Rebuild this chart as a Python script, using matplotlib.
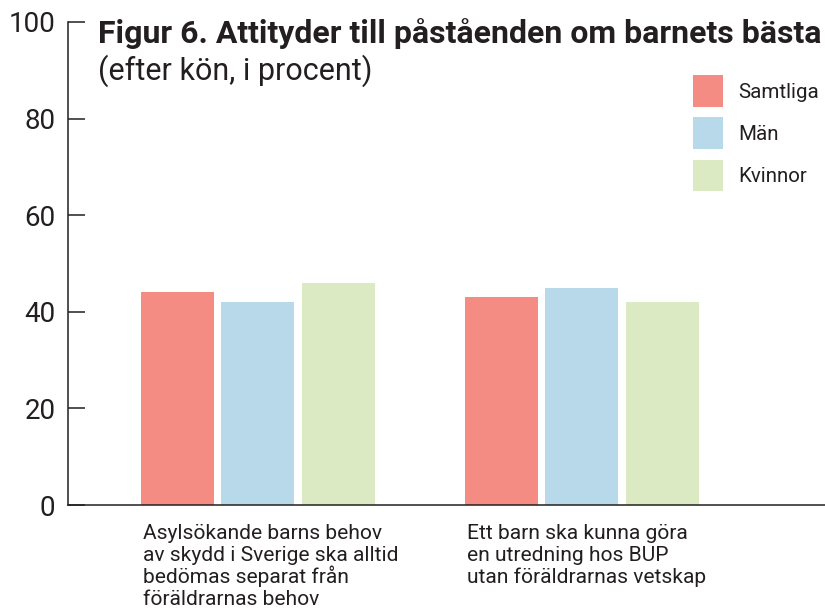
import matplotlib
matplotlib.use("Agg")
import matplotlib.pyplot as plt
import matplotlib.transforms as mtransforms
import numpy as np

# data
categories = ["Asylsökande barns behov\nav skydd i Sverige ska alltid\nbedömas separat från\nföräldrarnas behov",
              "Ett barn ska kunna göra\nen utredning hos BUP\nutan föräldrarnas vetskap"]
series = ["Samtliga", "Män", "Kvinnor"]
samtliga = [44, 43]
man = [42, 45]
kvinnor = [46, 42]
yticks = [0, 20, 40, 60, 80, 100]

colors = ["#F48C84", "#B8D9EA", "#DBEAC2"]
textcol = "#231F20"

plt.rcParams['font.family'] = ['Roboto', 'DejaVu Sans']

W, H = 825, 611
fig = plt.figure(figsize=(W / 100, H / 100), dpi=100)
ax = fig.add_axes([68 / W, 1 - 505 / H, 1 - 68 / W, (505 - 22) / H])

pos = np.arange(len(categories))
w = 0.225
step = 0.2485
for i, vals in enumerate([samtliga, man, kvinnor]):
    ax.bar(pos + (i - 1) * step, vals, width=w, color=colors[i], label=series[i], zorder=2)

ax.set_xlim(-0.586, 1.75)
ax.set_ylim(0, 100)
ax.set_yticks(yticks)
ax.set_xticks([])
ax.spines['top'].set_visible(False)
ax.spines['right'].set_visible(False)
ax.spines['left'].set_bounds(0, 100)
for s in ['left', 'bottom']:
    ax.spines[s].set_color(textcol)
    ax.spines[s].set_linewidth(1.1)
ax.tick_params(axis='y', direction='in', length=12.2, width=1.1, color=textcol,
               labelsize=20, labelcolor=textcol, pad=9)

# kategorietiketter under staplarna, en rad i taget så radavståndet blir jämnt
trans = mtransforms.blended_transform_factory(ax.transData, fig.transFigure)
for p, lab in zip(pos, categories):
    for k, line in enumerate(lab.split("\n")):
        ax.text(p - step - w / 2 + 0.005, 1 - (539 + k * 22) / H, line,
                ha='left', va='baseline', fontsize=15.1, color=textcol,
                transform=trans, clip_on=False)

# rubrik
fig.text(98 / W, 1 - 18 / H, "Figur 6. Attityder till påståenden om barnets bästa",
         ha='left', va='top', fontsize=23, fontweight='bold', color=textcol)
fig.text(98 / W, 1 - 54 / H, "(efter kön, i procent)",
         ha='left', va='top', fontsize=22, color=textcol)

fs_leg = 14.8
leg = ax.legend(loc='upper left', bbox_to_anchor=(685 / W, 1 - 67 / H),
                bbox_transform=fig.transFigure, frameon=False, fontsize=fs_leg,
                handlelength=1.46, handleheight=2.01, handletextpad=0.73, labelspacing=0.5,
                borderaxespad=0)
for t in leg.get_texts():
    t.set_color(textcol)

fig.savefig("out.png", dpi=100)
